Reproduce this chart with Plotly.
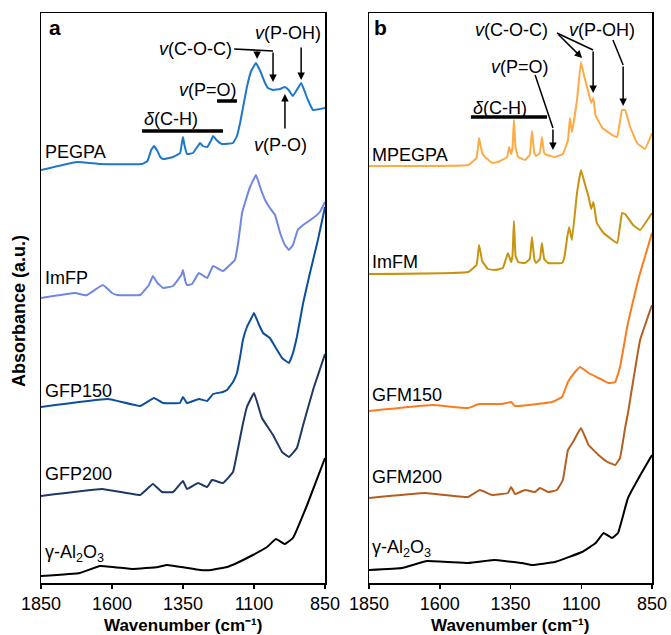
import plotly.graph_objects as go

FONT = "Liberation Sans, Arial, sans-serif"

# ---------------- Panel a data (wavenumber cm-1, absorbance a.u., offset stacked) -------------
pegpa_wn = [1850, 1723, 1642, 1494, 1475, 1462, 1452, 1440, 1430, 1420, 1385, 1360, 1354, 1350,
            1345, 1336, 1315, 1300, 1290, 1280, 1265, 1252, 1244, 1232, 1213, 1174, 1160, 1149,
            1125, 1110, 1093, 1078, 1061, 1051, 1033, 1008, 991, 978, 963, 945, 934, 922, 910,
            892, 850]
pegpa_a = [4.13, 4.21, 4.19, 4.19, 4.22, 4.33, 4.37, 4.32, 4.26, 4.24, 4.26, 4.30, 4.40, 4.46,
           4.38, 4.29, 4.30, 4.36, 4.40, 4.37, 4.36, 4.42, 4.47, 4.43, 4.39, 4.40, 4.47, 4.60,
           4.96, 5.12, 5.20, 5.12, 5.00, 4.95, 4.93, 4.94, 4.96, 4.93, 4.87, 4.95, 5.00, 4.92, 4.83,
           4.73, 4.75]

imfp_wn = [1850, 1730, 1700, 1688, 1632, 1600, 1582, 1501, 1470, 1456, 1440, 1420, 1385, 1356,
           1350, 1342, 1336, 1318, 1294, 1265, 1244, 1209, 1174, 1167, 1156, 1142, 1132, 1114,
           1093, 1075, 1061, 1044, 1026, 1008, 991, 977, 963, 946, 927, 892, 868, 850]
imfp_a = [2.85, 2.90, 2.88, 2.88, 2.98, 2.90, 2.88, 2.88, 2.98, 3.07, 3.00, 2.95, 2.97, 3.08,
          3.13, 3.02, 2.98, 2.99, 3.10, 3.05, 3.17, 3.12, 3.21, 3.23, 3.40, 3.70, 3.80, 3.96,
          4.08, 3.93, 3.83, 3.75, 3.68, 3.50, 3.38, 3.33, 3.38, 3.53, 3.58, 3.65, 3.71, 3.81]

gfp150_wn = [1850, 1614, 1501, 1452, 1420, 1361, 1350, 1336, 1294, 1265, 1244, 1210, 1195, 1174,
             1160, 1149, 1139, 1125, 1107, 1100, 1085, 1068, 1044, 1023, 1001, 977, 965, 949, 927,
             903, 875, 850]
gfp150_a = [1.76, 1.84, 1.77, 1.85, 1.80, 1.80, 1.86, 1.80, 1.84, 1.82, 1.89, 1.91, 1.93, 2.01,
            2.10, 2.26, 2.43, 2.56, 2.66, 2.70, 2.60, 2.50, 2.45, 2.35, 2.25, 2.20, 2.28, 2.46, 2.80,
            3.10, 3.43, 3.76]

gfp200_wn = [1850, 1635, 1501, 1456, 1424, 1385, 1350, 1336, 1297, 1265, 1248, 1209, 1174, 1156,
             1140, 1125, 1100, 1072, 1033, 1001, 977, 949, 927, 890, 850]
gfp200_a = [0.87, 0.94, 0.88, 0.99, 0.91, 0.91, 1.02, 0.94, 1.00, 0.96, 1.03, 1.00, 1.11, 1.35,
            1.58, 1.76, 1.90, 1.65, 1.48, 1.31, 1.26, 1.35, 1.58, 1.95, 2.29]

al2o3a_wn = [1850, 1713, 1642, 1526, 1438, 1406, 1290, 1250, 1195, 1160, 1104, 1054, 1023, 991,
             963, 913, 850]
al2o3a_a = [0.07, 0.10, 0.17, 0.14, 0.16, 0.18, 0.13, 0.13, 0.16, 0.20, 0.28, 0.36, 0.44, 0.39,
            0.45, 0.78, 1.25]

# ---------------- Panel b data -------------
mpegpa_wn = [1850, 1500, 1470, 1461, 1450, 1440, 1415, 1394, 1362, 1355, 1348, 1343, 1338, 1332,
             1323, 1299, 1282, 1274, 1266, 1260, 1246, 1239, 1231, 1221, 1193, 1165, 1147, 1140,
             1133, 1115, 1101, 1088, 1074, 1065, 1057, 1050, 1025, 991, 973, 956, 945, 927, 903,
             875, 850]
mpegpa_a = [4.17, 4.18, 4.25, 4.45, 4.30, 4.26, 4.20, 4.21, 4.26, 4.36, 4.29, 4.35, 4.63, 4.35,
            4.26, 4.23, 4.28, 4.52, 4.30, 4.27, 4.30, 4.46, 4.30, 4.28, 4.26, 4.29, 4.43, 4.65,
            4.51, 4.83, 5.21, 5.05, 4.90, 4.80, 4.85, 4.68, 4.55, 4.48, 4.46, 4.73, 4.73, 4.56, 4.40,
            4.34, 4.50]

imfm_wn = [1850, 1500, 1470, 1461, 1450, 1430, 1405, 1377, 1359, 1348, 1343, 1338, 1332, 1323,
           1299, 1282, 1274, 1266, 1260, 1246, 1239, 1231, 1217, 1168, 1160, 1150, 1143, 1133,
           1115, 1101, 1088, 1074, 1065, 1057, 1045, 1021, 973, 956, 945, 917, 892, 850]
imfm_a = [3.09, 3.11, 3.18, 3.38, 3.22, 3.14, 3.13, 3.15, 3.30, 3.21, 3.27, 3.62, 3.27, 3.21,
          3.20, 3.24, 3.46, 3.24, 3.20, 3.24, 3.40, 3.24, 3.20, 3.20, 3.25, 3.45, 3.56, 3.43,
          3.90, 4.13, 4.00, 3.86, 3.74, 3.81, 3.60, 3.50, 3.40, 3.70, 3.69, 3.58, 3.53, 3.70]

gfm150_wn = [1850, 1627, 1500, 1461, 1380, 1348, 1334, 1203, 1168, 1147, 1122, 1104, 1074, 1039,
             1004, 980, 963, 935, 899, 850]
gfm150_a = [1.72, 1.78, 1.75, 1.79, 1.79, 1.81, 1.77, 1.81, 1.86, 2.01, 2.11, 2.16, 2.10, 2.05,
            2.00, 2.01, 2.16, 2.60, 3.03, 3.50]

gfm200_wn = [1850, 1652, 1500, 1458, 1415, 1359, 1348, 1334, 1299, 1263, 1246, 1217, 1186, 1165,
             1147, 1129, 1101, 1074, 1039, 1007, 980, 963, 945, 935, 892, 850]
gfm200_a = [0.85, 0.90, 0.86, 0.93, 0.88, 0.90, 0.96, 0.89, 0.93, 0.91, 0.95, 0.91, 0.93, 1.03,
            1.33, 1.41, 1.55, 1.38, 1.28, 1.21, 1.18, 1.25, 1.55, 1.70, 2.43, 2.78]

al2o3b_wn = [1850, 1733, 1645, 1500, 1440, 1408, 1309, 1274, 1193, 1097, 1049, 1021, 991, 970,
             935, 885, 850]
al2o3b_a = [0.13, 0.15, 0.22, 0.20, 0.22, 0.23, 0.20, 0.18, 0.21, 0.31, 0.40, 0.50, 0.45, 0.50,
            0.85, 1.11, 1.28]

series_a = [("PEGPA", pegpa_wn, pegpa_a, "#1f77c9"),
            ("ImFP", imfp_wn, imfp_a, "#6f87e3"),
            ("GFP150", gfp150_wn, gfp150_a, "#0b4f9c"),
            ("GFP200", gfp200_wn, gfp200_a, "#1f3864"),
            ("γ-Al<sub>2</sub>O<sub>3</sub>", al2o3a_wn, al2o3a_a, "#000000")]
series_b = [("MPEGPA", mpegpa_wn, mpegpa_a, "#ffab45"),
            ("ImFM", imfm_wn, imfm_a, "#c8930f"),
            ("GFM150", gfm150_wn, gfm150_a, "#fb7b1e"),
            ("GFM200", gfm200_wn, gfm200_a, "#b45f1f"),
            ("γ-Al<sub>2</sub>O<sub>3</sub>", al2o3b_wn, al2o3b_a, "#000000")]

label_y_a = [4.31, 3.05, 1.92, 1.09, 0.30]
label_y_b = [4.28, 3.21, 1.88, 1.06, 0.35]

tick_vals = [1850, 1600, 1350, 1100, 850]
tick_text = ["1850", "1600", "1350", "1100", "850"]

W, H = 671, 635

def px_x(p):
    return p / W

def px_y(p):
    return (H - p) / H

fig = go.Figure()
for name, wn, a, col in series_a:
    fig.add_trace(go.Scatter(x=wn, y=a, mode="lines", line=dict(color=col, width=2, shape="spline", smoothing=0.25),
                             xaxis="x", yaxis="y", showlegend=False, name=name, hoverinfo="skip"))
for name, wn, a, col in series_b:
    fig.add_trace(go.Scatter(x=wn, y=a, mode="lines", line=dict(color=col, width=2, shape="spline", smoothing=0.25),
                             xaxis="x2", yaxis="y2", showlegend=False, name=name, hoverinfo="skip"))

annotations = []
shapes = []

def txt(x, y, text, xr, yr, size=18, xanchor="center", yanchor="middle", bold=False):
    if bold:
        text = "<b>" + text + "</b>"
    annotations.append(dict(x=x, y=y, xref=xr, yref=yr, text=text, showarrow=False,
                            xanchor=xanchor, yanchor=yanchor, font=dict(size=size, color="black", family=FONT)))

def arrow(x0, y0, x1, y1, xr, yr):
    annotations.append(dict(x=x1, y=y1, ax=x0, ay=y0, xref=xr, yref=yr, axref=xr, ayref=yr,
                            text="", showarrow=True, arrowhead=2, arrowsize=1, arrowwidth=1.5,
                            arrowcolor="black"))

def seg(x0, y0, x1, y1, xr, yr, w=1.5):
    shapes.append(dict(type="line", x0=x0, y0=y0, x1=x1, y1=y1, xref=xr, yref=yr,
                       line=dict(color="black", width=w)))

# sample labels
for (name, wn, a, col), ly in zip(series_a, label_y_a):
    txt(1843, ly, name, "x", "y", xanchor="left")
for (name, wn, a, col), ly in zip(series_b, label_y_b):
    txt(1846, ly, name, "x2", "y2", xanchor="left")

# panel a annotations
txt(1801, 5.55, "a", "x", "y", size=21, bold=True)
txt(980, 5.50, "<i>v</i>(P-OH)", "x", "y")
arrow(934, 5.37, 934, 5.03, "x", "y")
txt(1170, 5.34, "<i>v</i>(C-O-C)", "x", "y", xanchor="right")
seg(1170, 5.34, 1033, 5.32, "x", "y")
arrow(1089, 5.33, 1089, 5.24, "x", "y")
arrow(1033, 5.32, 1033, 5.01, "x", "y")
txt(1262, 4.93, "<i>v</i>(P=O)", "x", "y")
seg(1230, 4.82, 1160, 4.82, "x", "y", w=3.5)
txt(1392, 4.64, "<i>δ</i>(C-H)", "x", "y")
seg(1494, 4.52, 1209, 4.52, "x", "y", w=3.5)
txt(1008, 4.38, "<i>v</i>(P-O)", "x", "y")
arrow(991, 4.53, 991, 4.89, "x", "y")

# panel b annotations
txt(1808, 5.55, "b", "x2", "y2", size=21, bold=True)
txt(1345, 5.53, "<i>v</i>(C-O-C)", "x2", "y2")
txt(1027, 5.53, "<i>v</i>(P-OH)", "x2", "y2")
arrow(1186, 5.50, 1097, 5.25, "x2", "y2")
seg(1186, 5.50, 1058, 5.33, "x2", "y2")
arrow(1058, 5.33, 1058, 4.90, "x2", "y2")
seg(988, 5.43, 952, 5.18, "x2", "y2")
arrow(952, 5.18, 952, 4.77, "x2", "y2")
txt(1316, 5.16, "<i>v</i>(P=O)", "x2", "y2")
seg(1263, 5.08, 1200, 4.55, "x2", "y2")
arrow(1200, 4.55, 1200, 4.33, "x2", "y2")
txt(1387, 4.75, "<i>δ</i>(C-H)", "x2", "y2")
seg(1490, 4.66, 1221, 4.66, "x2", "y2", w=3.5)

# axis titles
txt(px_x(183), px_y(625), "Wavenumber (cm⁻¹)", "paper", "paper", size=17, bold=True)
txt(px_x(510), px_y(625), "Wavenumber (cm⁻¹)", "paper", "paper", size=17, bold=True)
annotations.append(dict(x=px_x(19), y=px_y(311), xref="paper", yref="paper", text="<b>Absorbance (a.u.)</b>",
                        showarrow=False, textangle=-90, xanchor="center", yanchor="middle",
                        font=dict(size=18, color="black", family=FONT)))

xcommon = dict(range=[1850, 850], tickvals=tick_vals, ticktext=tick_text, ticks="outside", ticklen=4,
               tickwidth=1.5, tickcolor="black", showline=True, linecolor="black", linewidth=1.5,
               mirror=True, showgrid=False, zeroline=False, tickfont=dict(size=18, color="black", family=FONT),
               automargin=False)
ycommon = dict(range=[0, 5.70], showticklabels=False, ticks="", showline=True, linecolor="black",
               linewidth=1.5, mirror=True, showgrid=False, zeroline=False, automargin=False,
               domain=[px_y(583), px_y(13)])

fig.update_layout(
    width=W, height=H, margin=dict(l=0, r=0, t=0, b=0),
    paper_bgcolor="white", plot_bgcolor="white",
    font=dict(family=FONT, color="black"),
    xaxis=dict(domain=[px_x(41), px_x(325)], anchor="y", **xcommon),
    yaxis=dict(anchor="x", **ycommon),
    xaxis2=dict(domain=[px_x(369), px_x(652)], anchor="y2", **xcommon),
    yaxis2=dict(anchor="x2", **ycommon),
    annotations=annotations, shapes=shapes, showlegend=False, hovermode=False,
)

fig.write_html("out.html", config={"displayModeBar": False, "staticPlot": True},
               post_script="document.body.style.margin='0px';document.body.style.overflow='hidden';")
